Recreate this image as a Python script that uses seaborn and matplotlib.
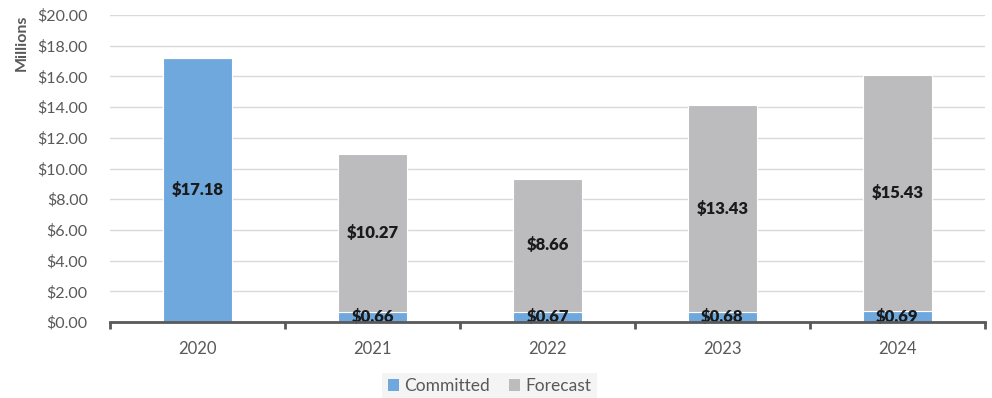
import matplotlib
matplotlib.use("Agg")
import matplotlib.pyplot as plt
import seaborn as sns
import pandas as pd
import numpy as np
from matplotlib.patches import Patch
from matplotlib.ticker import FuncFormatter, MultipleLocator, FixedLocator

years = ["2020", "2021", "2022", "2023", "2024"]
committed = [17.18, 0.66, 0.67, 0.68, 0.69]
forecast = [0.0, 10.27, 8.66, 13.43, 15.43]

blue = "#6FA8DC"
gray = "#BCBCBF"
text_gray = "#595959"

sns.set_theme(style="white")
plt.rcParams["font.family"] = ["Lato", "DejaVu Sans"]

df = pd.DataFrame({"Year": years, "Committed": committed, "Forecast": forecast})

fig = plt.figure(figsize=(9.92, 3.98), dpi=100)
ax = fig.add_axes([0.1109, 0.191, 0.882, 0.771])

sns.barplot(data=df, x="Year", y="Committed", color=blue, width=0.39,
            edgecolor="white", linewidth=0.8, saturation=1, ax=ax, zorder=2)
sns.barplot(data=df, x="Year", y="Forecast", bottom=df["Committed"], color=gray,
            width=0.39, edgecolor="white", linewidth=0.8, saturation=1, ax=ax, zorder=2)

# value labels centred in each segment
for i in range(len(years)):
    c, f = committed[i], forecast[i]
    ax.text(i, c / 2, f"${c:.2f}", ha="center", va="center",
            fontsize=12, fontweight="heavy", color="#1a1a1a", zorder=4)
    if f > 0:
        ax.text(i, c + f / 2, f"${f:.2f}", ha="center", va="center",
                fontsize=12, fontweight="heavy", color="#1a1a1a", zorder=4)

ax.set_xlim(-0.5, len(years) - 0.5)
ax.set_ylim(0, 20)
ax.yaxis.set_major_locator(MultipleLocator(2))
ax.yaxis.set_major_formatter(FuncFormatter(lambda v, p: f"${v:.2f}"))
ax.grid(axis="y", color="#D9D9D9", linewidth=1, zorder=0)
ax.set_axisbelow(True)

for s in ["top", "right", "left"]:
    ax.spines[s].set_visible(False)
ax.spines["bottom"].set_color("#595959")
ax.spines["bottom"].set_linewidth(2)
ax.spines["bottom"].set_zorder(5)

ax.tick_params(axis="y", length=0, labelsize=11.5, labelcolor=text_gray, pad=16)
ax.tick_params(axis="x", which="major", length=0, labelsize=12,
               labelcolor=text_gray, pad=14)
ax.xaxis.set_minor_locator(FixedLocator(np.arange(-0.5, len(years), 1.0)))
ax.tick_params(axis="x", which="minor", bottom=True, length=5, width=2,
               color="#595959", direction="out")
ax.set_xlabel("")
ax.set_ylabel("")

fig.text(0.0215, 0.962, "Millions", rotation=90, ha="center", va="top",
         fontsize=11.5, fontweight="bold", color=text_gray)

handles = [Patch(facecolor=blue, edgecolor="none"),
           Patch(facecolor=gray, edgecolor="none")]
leg = fig.legend(handles, ["Committed", "Forecast"], loc="center",
                 bbox_to_anchor=(0.4935, 0.03), ncol=2, frameon=True,
                 fontsize=12.5, handlelength=0.65, handleheight=0.65,
                 handletextpad=0.3, columnspacing=1.1, borderpad=0.3,
                 fancybox=False)
leg.get_frame().set_facecolor("#F2F2F2")
leg.get_frame().set_edgecolor("none")
for t in leg.get_texts():
    t.set_color(text_gray)

fig.savefig("out.png", dpi=100)
